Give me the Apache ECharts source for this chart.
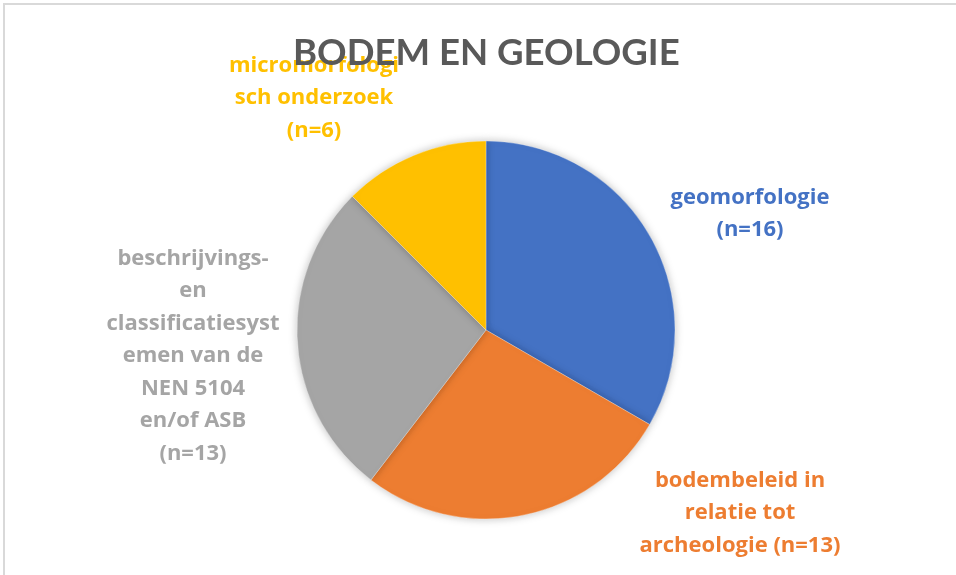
<!DOCTYPE html>
<html>
<head>
<meta charset="utf-8">
<script src="https://cdn.jsdelivr.net/npm/echarts@6/dist/echarts.min.js"></script>
<style>
  html, body { margin: 0; padding: 0; background: #fff; }
  #chart { width: 956px; height: 575px; }
</style>
</head>
<body>
<div id="chart"></div>
<script>
// Category names (with the line breaks used in the labels), counts and colours
const categories = [
  'geomorfologie',
  'bodembeleid in\nrelatie tot\narcheologie',
  'beschrijvings-\nen\nclassificatiesyst\nemen van de\nNEN 5104\nen/of ASB',
  'micromorfologi\nsch onderzoek'
];
const counts = [16, 13, 13, 6];
const colors = ['#4472C4', '#ED7D31', '#A5A5A5', '#FFC000'];
// Label anchor points (centre-top of each label block)
const labelAnchors = [
  [750, 181],
  [740, 464],
  [193, 242],
  [314, 49]
];

const chart = echarts.init(document.getElementById('chart'), null, { renderer: 'canvas' });

chart.setOption({
  backgroundColor: '#ffffff',
  animation: false,
  graphic: [{
    type: 'rect',
    shape: { x: 4, y: 4, width: 1000, height: 700 },
    style: { fill: 'none', stroke: '#d9d9d9', lineWidth: 2 },
    silent: true,
    z: 0
  }],
  title: {
    text: 'BODEM EN GEOLOGIE',
    left: 288,
    top: 30,
    textStyle: {
      fontFamily: 'Lato',
      fontWeight: 'bold',
      fontSize: 36.6,
      color: '#595959'
    }
  },
  series: [{
    type: 'pie',
    center: [486, 330],
    radius: 189,
    startAngle: 90,
    clockwise: true,
    itemStyle: {
      borderColor: 'rgba(255,255,255,0.6)',
      borderWidth: 0.5,
      shadowBlur: 8,
      shadowColor: 'rgba(0,0,0,0.25)'
    },
    emphasis: { disabled: true },
    labelLine: { show: false },
    label: {
      show: true,
      position: 'outside',
      formatter: p => p.name + (p.name.endsWith('archeologie') ? ' ' : '\n') + '(n=' + p.value + ')',
      fontFamily: 'Open Sans',
      fontWeight: 'bold',
      fontSize: 22,
      lineHeight: 32.5,
      align: 'center'
    },
    labelLayout: p => ({
      x: labelAnchors[p.dataIndex][0],
      y: labelAnchors[p.dataIndex][1],
      align: 'center',
      verticalAlign: 'top'
    }),
    data: categories.map((c, i) => ({
      name: c,
      value: counts[i],
      itemStyle: { color: colors[i] },
      label: { color: colors[i] }
    }))
  }]
});
</script>
</body>
</html>
